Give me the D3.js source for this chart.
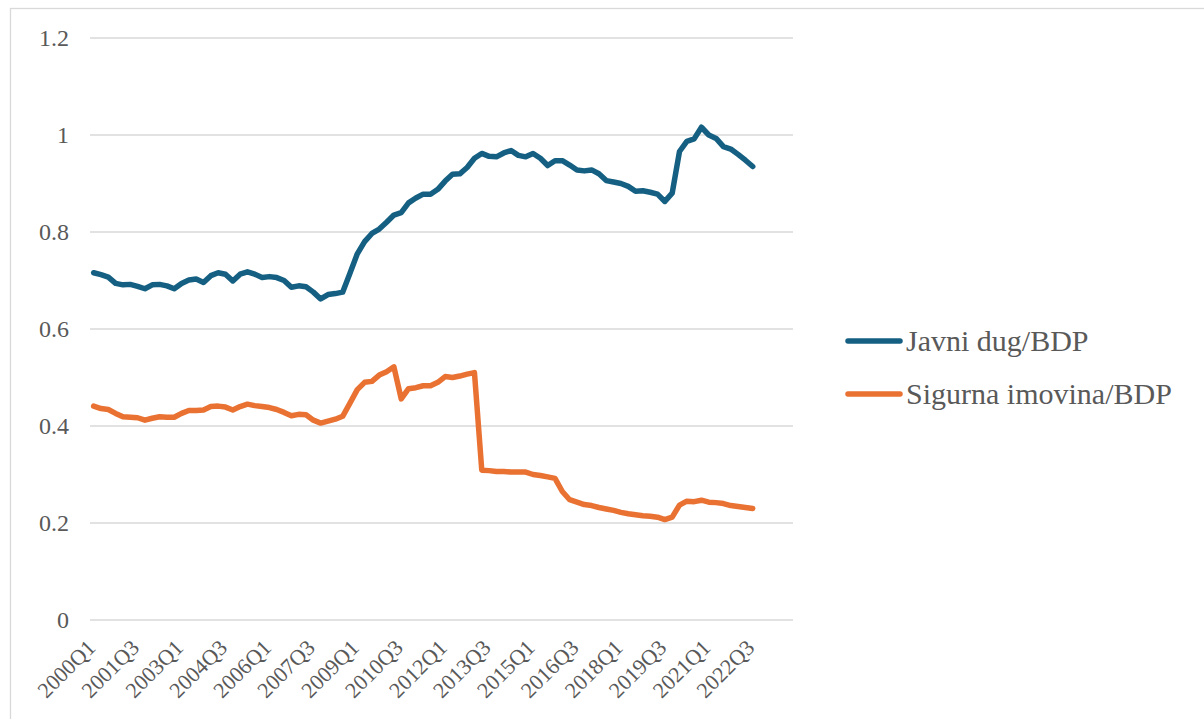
<!DOCTYPE html>
<html>
<head>
<meta charset="utf-8">
<script src="https://cdn.jsdelivr.net/npm/d3@7"></script>
</head>
<body style="margin:0">
<svg id="s" width="1204" height="719"></svg>
<script>
// Quarterly categories 2000Q1 to 2023Q4
const years = [2000, 2001, 2002, 2003, 2004, 2005, 2006, 2007, 2008, 2009, 2010, 2011,
               2012, 2013, 2014, 2015, 2016, 2017, 2018, 2019, 2020, 2021, 2022, 2023];
const quarterNames = ["Q1", "Q2", "Q3", "Q4"];
const categories = years.flatMap(yr => quarterNames.map(q => yr + q));

// Labelled categories on the horizontal axis
const tickLabels = ["2000Q1", "2001Q3", "2003Q1", "2004Q3", "2006Q1", "2007Q3", "2009Q1", "2010Q3",
                    "2012Q1", "2013Q3", "2015Q1", "2016Q3", "2018Q1", "2019Q3", "2021Q1", "2022Q3"];

// Public debt / GDP, 2000Q1 to 2022Q3
const javniDug = [
  0.716, 0.712, 0.707, 0.694, 0.691, 0.692, 0.688, 0.683, 0.691, 0.692,
  0.689, 0.683, 0.694, 0.701, 0.703, 0.696, 0.710, 0.716, 0.713, 0.699,
  0.713, 0.718, 0.713, 0.706, 0.708, 0.706, 0.700, 0.686, 0.689, 0.687,
  0.676, 0.662, 0.671, 0.673, 0.676, 0.715, 0.755, 0.780, 0.797, 0.806,
  0.820, 0.835, 0.840, 0.860, 0.870, 0.878, 0.878, 0.888, 0.905, 0.919,
  0.920, 0.933, 0.952, 0.962, 0.956, 0.955, 0.963, 0.968, 0.958, 0.955,
  0.962, 0.952, 0.937, 0.947, 0.947, 0.938, 0.928, 0.926, 0.928, 0.920,
  0.906, 0.903, 0.900, 0.894, 0.884, 0.885, 0.882, 0.878, 0.863, 0.880,
  0.966, 0.987, 0.992, 1.016, 1.000, 0.993, 0.976, 0.971, 0.960, 0.948, 0.935
];

// Safe assets / GDP, 2000Q1 to 2022Q3
const sigurnaImovina = [
  0.441, 0.436, 0.434, 0.426, 0.419, 0.418, 0.417, 0.412, 0.416, 0.419,
  0.418, 0.418, 0.426, 0.432, 0.432, 0.433, 0.440, 0.441, 0.439, 0.433,
  0.440, 0.445, 0.442, 0.440, 0.438, 0.434, 0.428, 0.421, 0.424, 0.423,
  0.412, 0.406, 0.410, 0.414, 0.420, 0.447, 0.475, 0.490, 0.492, 0.505,
  0.512, 0.522, 0.456, 0.477, 0.479, 0.483, 0.483, 0.490, 0.502, 0.500,
  0.503, 0.507, 0.510, 0.309, 0.308, 0.306, 0.306, 0.305, 0.305, 0.305,
  0.300, 0.298, 0.295, 0.292, 0.265, 0.248, 0.243, 0.238, 0.236, 0.232,
  0.229, 0.226, 0.222, 0.219, 0.217, 0.215, 0.214, 0.212, 0.207, 0.212,
  0.237, 0.245, 0.244, 0.247, 0.243, 0.242, 0.240, 0.236, 0.234, 0.232, 0.230
];

const yTicks = [0, 0.2, 0.4, 0.6, 0.8, 1, 1.2];

const seriesNames = ["Javni dug/BDP", "Sigurna imovina/BDP"];
const seriesColors = ["#156082", "#E97132"];
const seriesData = [javniDug, sigurnaImovina];

const FONT = "Times New Roman";
const TEXT_COLOR = "#595959";
const GRID_COLOR = "#d9d9d9";

const svg = d3.select("#s");

// Chart frame
svg.append("rect")
  .attr("x", 10.5).attr("y", 8.5)
  .attr("width", 1200).attr("height", 720)
  .attr("fill", "none").attr("stroke", GRID_COLOR).attr("stroke-width", 1.3);

const plot = { left: 90, right: 793, top: 38, bottom: 620 };

const x = d3.scaleBand().domain(categories).range([plot.left, plot.right]).padding(0);
const cx = c => x(c) + x.bandwidth() / 2;
const y = d3.scaleLinear().domain([0, 1.2]).range([plot.bottom, plot.top]);
const fmt = d3.format("~g");

// Horizontal gridlines
svg.selectAll("line.grid").data(yTicks).join("line")
  .attr("class", "grid")
  .attr("x1", plot.left).attr("x2", plot.right)
  .attr("y1", d => y(d)).attr("y2", d => y(d))
  .attr("stroke", GRID_COLOR).attr("stroke-width", 1.4);

// Value labels
yTicks.forEach(d => {
  svg.append("text")
    .attr("x", plot.left - 21).attr("y", y(d) + 8)
    .attr("font-family", FONT).attr("font-size", 24)
    .attr("fill", TEXT_COLOR).attr("text-anchor", "end")
    .text(fmt(d));
});

// Category labels, rotated
tickLabels.forEach(lbl => {
  const px = cx(lbl) + 3, py = plot.bottom + 29;
  svg.append("text")
    .attr("x", 0).attr("y", 0)
    .attr("transform", `translate(${px},${py}) rotate(-45)`)
    .attr("font-family", FONT).attr("font-size", 22)
    .attr("fill", TEXT_COLOR).attr("text-anchor", "end")
    .text(lbl);
});

// Series lines
const line = d3.line()
  .x((d, i) => cx(categories[i]))
  .y(d => y(d))
  .curve(d3.curveLinear);

seriesData.forEach((vals, k) => {
  svg.append("path")
    .datum(vals)
    .attr("fill", "none")
    .attr("stroke", seriesColors[k])
    .attr("stroke-width", 5.5)
    .attr("stroke-linejoin", "round")
    .attr("stroke-linecap", "round")
    .attr("d", line);
});

// Legend
seriesNames.forEach((name, k) => {
  const ly = 341 + k * 53;
  svg.append("line")
    .attr("x1", 848).attr("x2", 900).attr("y1", ly).attr("y2", ly)
    .attr("stroke", seriesColors[k]).attr("stroke-width", 5.5)
    .attr("stroke-linecap", "round");
  svg.append("text")
    .attr("x", 906).attr("y", ly + 10)
    .attr("font-family", FONT).attr("font-size", 30)
    .attr("fill", TEXT_COLOR)
    .text(name);
});
</script>
</body>
</html>
